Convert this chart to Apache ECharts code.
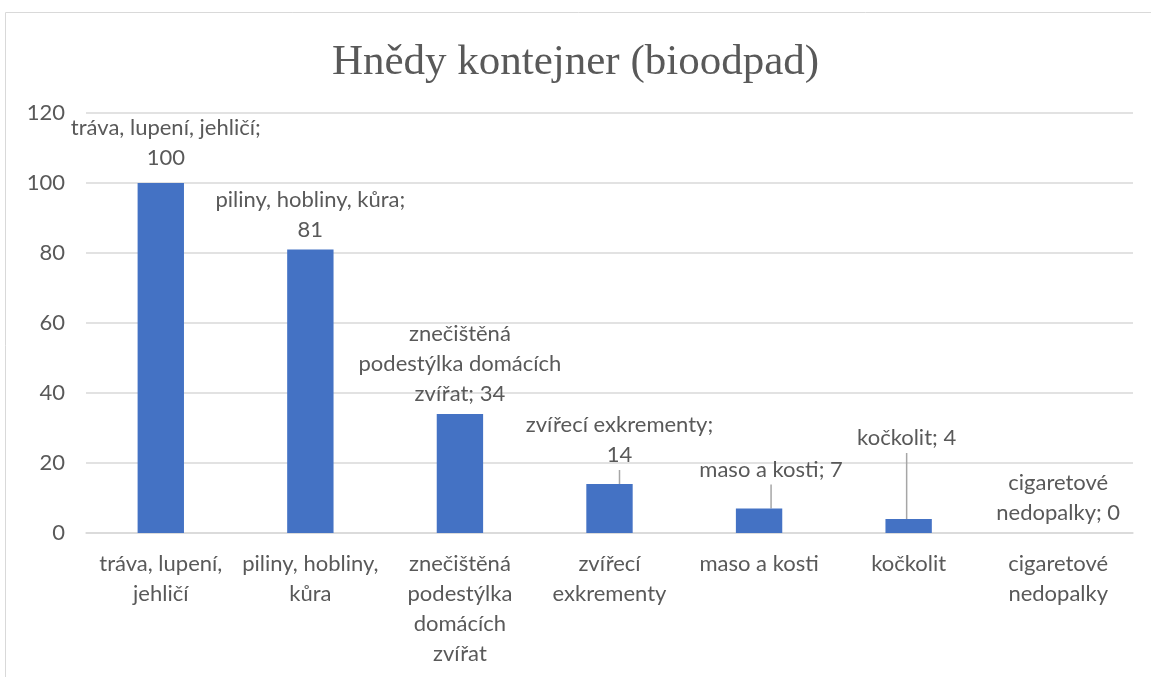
<!DOCTYPE html>
<html>
<head>
<meta charset="utf-8">
<script src="https://cdn.jsdelivr.net/npm/echarts@6/dist/echarts.min.js"></script>
<style>
  html, body { margin: 0; padding: 0; background: #fff; }
  #chart { width: 1151px; height: 677px; }
</style>
</head>
<body>
<div id="chart"></div>
<script>
// data
const categories = [
  'tráva, lupení, jehličí',
  'piliny, hobliny, kůra',
  'znečištěná podestýlka domácích zvířat',
  'zvířecí exkrementy',
  'maso a kosti',
  'kočkolit',
  'cigaretové nedopalky'
];
const values = [100, 81, 34, 14, 7, 4, 0];
const yTicks = [0, 20, 40, 60, 80, 100, 120];

// how the axis labels wrap
const axisWraps = [
  'tráva, lupení,\njehličí',
  'piliny, hobliny,\nkůra',
  'znečištěná\npodestýlka\ndomácích\nzvířat',
  'zvířecí\nexkrementy',
  'maso a kosti',
  'kočkolit',
  'cigaretové\nnedopalky'
];
// how each data label wraps (Excel-like)
const labelWraps = [
  'tráva, lupení, jehličí;\n100',
  'piliny, hobliny, kůra;\n81',
  'znečištěná\npodestýlka domácích\nzvířat; 34',
  'zvířecí exkrementy;\n14',
  'maso a kosti; 7',
  'kočkolit; 4',
  'cigaretové\nnedopalky; 0'
];
// labels moved away from bar, with leader lines
const labelShift = { 0: [5, -5], 3: [10, -9], 4: [12, -19], 5: [-2, -61] };
const leaderIdx = [3, 4, 5];

const font = 'Lato, "Noto Sans", sans-serif';
const textColor = '#595959';

const chart = echarts.init(document.getElementById('chart'));
chart.setOption({
  animation: false,
  title: {
    text: 'Hnědy kontejner (bioodpad)',
    left: 'center',
    top: 36,
    textStyle: {
      fontFamily: '"Liberation Serif", "DejaVu Serif", serif',
      fontSize: 43,
      fontWeight: 'normal',
      color: textColor
    }
  },
  graphic: [{
    type: 'rect',
    silent: true,
    shape: { x: 5.5, y: 12.5, width: 1300, height: 800 },
    style: { fill: 'none', stroke: '#d9d9d9', lineWidth: 1 }
  }],
  grid: { left: 86, right: 18, top: 113, bottom: 144 },
  xAxis: {
    type: 'category',
    data: categories,
    axisLine: { lineStyle: { color: '#d9d9d9', width: 1.5 } },
    axisTick: { show: false },
    axisLabel: {
      fontFamily: font,
      fontSize: 22,
      color: textColor,
      lineHeight: 30,
      margin: 16,
      interval: 0,
      formatter: (v, i) => axisWraps[i]
    }
  },
  yAxis: {
    type: 'value',
    min: yTicks[0],
    max: yTicks[yTicks.length - 1],
    interval: 20,
    axisLine: { show: false },
    axisTick: { show: false },
    splitLine: { lineStyle: { color: '#d9d9d9', width: 1.5 } },
    axisLabel: {
      fontFamily: font,
      fontSize: 22,
      color: textColor,
      margin: 21
    }
  },
  series: [{
    type: 'bar',
    barWidth: '31%',
    itemStyle: { color: '#4472C4' },
    data: values.map((v, i) => leaderIdx.includes(i)
      ? { value: v, labelLine: { show: true } }
      : v),
    label: {
      show: true,
      position: 'top',
      distance: 5,
      fontFamily: font,
      fontSize: 22,
      lineHeight: 30,
      color: textColor,
      align: 'center',
      formatter: (p) => labelWraps[p.dataIndex]
    },
    labelLine: {
      show: false,
      lineStyle: { color: '#a6a6a6', width: 1.5 }
    },
    labelLayout: (p) => {
      const s = labelShift[p.dataIndex];
      return s ? { dx: s[0], dy: s[1] } : {};
    }
  }]
});
</script>
</body>
</html>
